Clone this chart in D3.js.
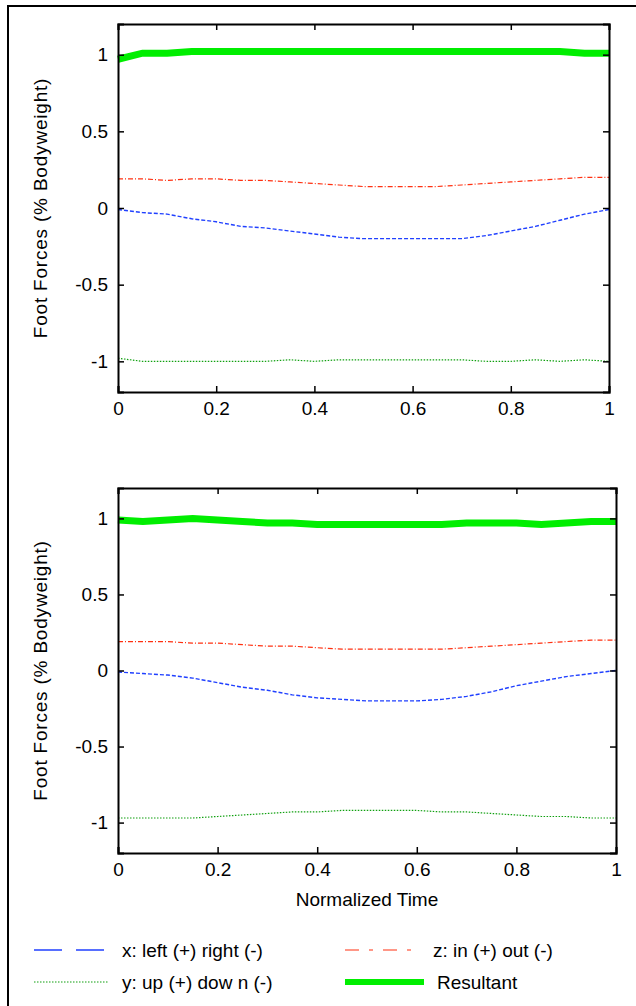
<!DOCTYPE html>
<html><head><meta charset="utf-8">
<script src="https://cdn.jsdelivr.net/npm/d3@7"></script>
<style>body{margin:0;background:#fff}svg{display:block;font-family:"Liberation Sans",Arial,sans-serif}</style>
</head><body><svg id="c" width="636" height="1006"></svg>
<script>
const times = d3.range(21).map(i => i * 0.05);
const xTicks = [0, 0.2, 0.4, 0.6, 0.8, 1];
const yTicks = [-1, -0.5, 0, 0.5, 1];

const topX = [-0.01,-0.03,-0.04,-0.07,-0.09,-0.12,-0.13,-0.15,-0.17,-0.19,-0.2,-0.2,-0.2,-0.2,-0.2,-0.18,-0.15,-0.12,-0.08,-0.04,-0.01];
const topZ = [0.19,0.19,0.18,0.19,0.19,0.18,0.18,0.17,0.16,0.15,0.14,0.14,0.14,0.14,0.15,0.16,0.17,0.18,0.19,0.2,0.2];
const topY = [-0.98,-1.0,-1.0,-1.0,-1.0,-1.0,-1.0,-0.99,-1.0,-0.99,-0.99,-0.99,-0.99,-0.99,-0.99,-1.0,-1.0,-0.99,-1.0,-0.99,-1.0];
const topR = [0.97,1.01,1.01,1.02,1.02,1.02,1.02,1.02,1.02,1.02,1.02,1.02,1.02,1.02,1.02,1.02,1.02,1.02,1.02,1.01,1.01];

const botX = [-0.01,-0.02,-0.03,-0.05,-0.08,-0.11,-0.13,-0.16,-0.18,-0.19,-0.2,-0.2,-0.2,-0.19,-0.17,-0.14,-0.1,-0.07,-0.04,-0.02,0];
const botZ = [0.19,0.19,0.19,0.18,0.18,0.17,0.16,0.16,0.15,0.14,0.14,0.14,0.14,0.14,0.15,0.16,0.17,0.18,0.19,0.2,0.2];
const botY = [-0.97,-0.97,-0.97,-0.97,-0.96,-0.95,-0.94,-0.93,-0.93,-0.92,-0.92,-0.92,-0.92,-0.93,-0.93,-0.94,-0.95,-0.96,-0.96,-0.97,-0.97];
const botR = [0.99,0.98,0.99,1.0,0.99,0.98,0.97,0.97,0.96,0.96,0.96,0.96,0.96,0.96,0.97,0.97,0.97,0.96,0.97,0.98,0.98];

const styles = {
  x: {stroke: "#2040ff", width: 1.4, dash: "4,2"},
  z: {stroke: "#ff3010", width: 1.2, dash: "5,2,1,2"},
  y: {stroke: "#10a010", width: 1.2, dash: "1.5,1.5"},
  r: {stroke: "#00ee00", width: 7, dash: null}
};

const svg = d3.select("#c");
svg.append("rect").attr("x", 8).attr("y", 6).attr("width", 640).attr("height", 1010)
  .attr("fill", "none").attr("stroke", "#000").attr("stroke-width", 2);

function panel(left, right, top, bottom, series, showXLabel) {
  const x = d3.scaleLinear().domain([0, 1]).range([left, right]);
  const y = d3.scaleLinear().domain([-1.2, 1.2]).range([bottom, top]);
  const g = svg.append("g");
  const line = d3.line().x((d, i) => x(times[i])).y(d => y(d));
  series.forEach(([key, vals]) => {
    const s = styles[key];
    g.append("path").attr("d", line(vals)).attr("fill", "none")
      .attr("stroke", s.stroke).attr("stroke-width", s.width)
      .attr("stroke-dasharray", s.dash);
  });
  const ax = (a, t) => a.tickValues(t).tickSize(-6).tickPadding(10).tickFormat(d => String(d));
  const axes = [
    g.append("g").attr("transform", `translate(0,${bottom})`).call(ax(d3.axisBottom(x), xTicks)),
    g.append("g").attr("transform", `translate(0,${top})`).call(ax(d3.axisTop(x), xTicks).tickFormat("")),
    g.append("g").attr("transform", `translate(${left},0)`).call(ax(d3.axisLeft(y), yTicks)),
    g.append("g").attr("transform", `translate(${right},0)`).call(ax(d3.axisRight(y), yTicks).tickFormat(""))
  ];
  axes.forEach(a => {
    a.select(".domain").attr("stroke-width", 2);
    a.selectAll(".tick line").attr("stroke-width", 1.5);
    a.selectAll("text").attr("font-size", 19).attr("fill", "#000").attr("font-family", "Liberation Sans, Arial");
  });
  g.append("text").attr("transform", `translate(47,${(top + bottom) / 2}) rotate(-90)`)
    .attr("text-anchor", "middle").attr("font-size", 19).attr("letter-spacing", 0.8)
    .text("Foot Forces (% Bodyweight)");
  if (showXLabel) g.append("text").attr("x", (left + right) / 2).attr("y", bottom + 53)
    .attr("text-anchor", "middle").attr("font-size", 19).text("Normalized Time");
}

panel(118, 609, 24, 392, [["x", topX], ["z", topZ], ["y", topY], ["r", topR]], false);
panel(118, 616, 488, 853, [["x", botX], ["z", botZ], ["y", botY], ["r", botR]], true);

const legend = [
  {key: "x", label: "x: left (+) right (-)", lx: 34, ly: 950},
  {key: "z", label: "z: in (+) out (-)", lx: 345, ly: 950},
  {key: "y", label: "y: up (+) dow n (-)", lx: 34, ly: 982},
  {key: "r", label: "Resultant", lx: 345, ly: 982}
];
legend.forEach(d => {
  const s = styles[d.key];
  const len = d.key === "r" ? 79 : 75;
  svg.append("line").attr("x1", d.lx).attr("x2", d.lx + len).attr("y1", d.ly).attr("y2", d.ly)
    .attr("stroke", s.stroke).attr("stroke-width", d.key === "r" ? 6 : s.width)
    .attr("stroke-dasharray", d.key === "x" ? "28,14" : d.key === "z" ? "14,10,4,10" : s.dash);
  svg.append("text").attr("x", d.lx + len + 13).attr("y", d.ly + 7).attr("font-size", 19).text(d.label);
});
</script></body></html>
